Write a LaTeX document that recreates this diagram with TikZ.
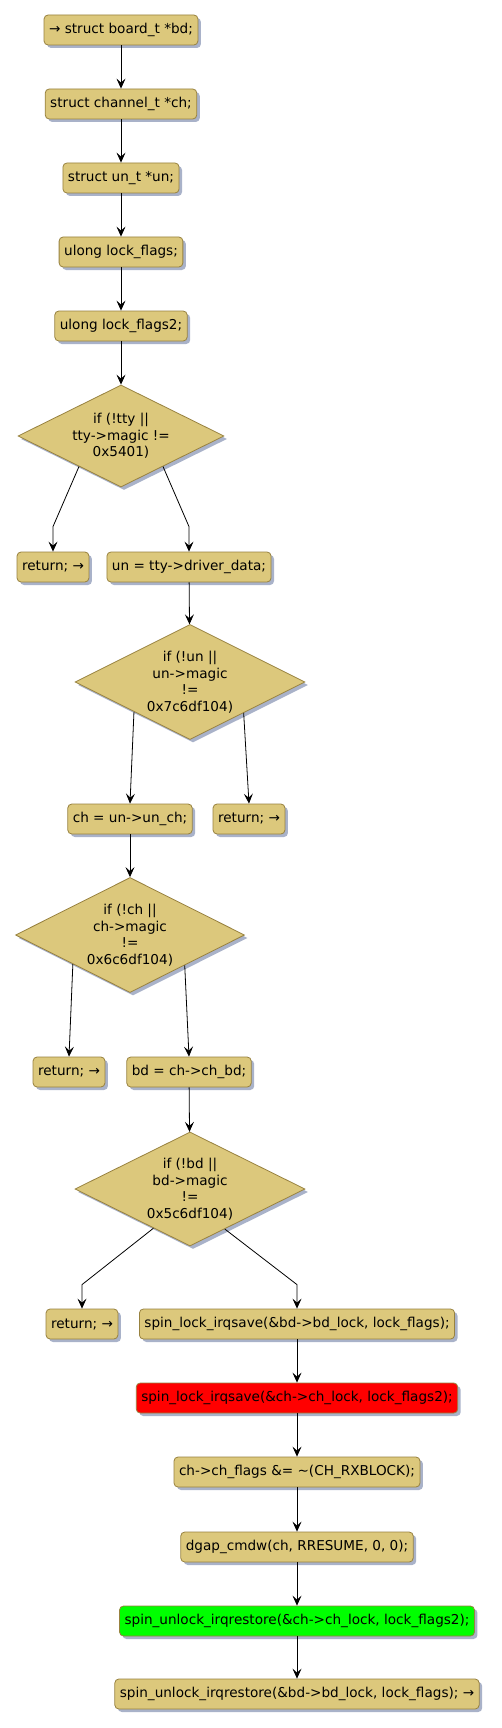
\documentclass[tikz,border=0pt]{standalone}
\usepackage{fontspec}
\setmainfont{DejaVu Sans}
\usetikzlibrary{shapes.geometric,arrows.meta,shadows,calc}
\definecolor{boxfill}{RGB}{220,200,124}
\definecolor{boxdraw}{RGB}{152,130,64}
\definecolor{shadowc}{RGB}{160,170,196}
\definecolor{redfill}{RGB}{255,0,0}
\definecolor{greenfill}{RGB}{0,255,0}
\tikzset{
  stepbox/.style={draw=boxdraw, fill=boxfill, text=black, rounded corners=4pt, line width=0.8pt,
    minimum height=30pt, inner xsep=5pt, inner ysep=0pt,
    font=\fontsize{13.6pt}{16.5pt}\selectfont,
    drop shadow={shadow xshift=3pt, shadow yshift=-3pt, fill=shadowc, opacity=0.9}},
  decide/.style={shape=diamond, aspect=2, draw=boxdraw, fill=boxfill, text=black, line width=0.8pt,
    inner sep=0pt, align=center, font=\fontsize{13.6pt}{16.6pt}\selectfont,
    drop shadow={shadow xshift=3pt, shadow yshift=-3pt, fill=shadowc, opacity=0.9}},
  flow/.style={draw=black, line width=0.8pt, -{Stealth[length=10pt,width=9pt,inset=4pt]}}
}
\begin{document}
\begin{tikzpicture}[x=1pt,y=-1pt]
\useasboundingbox (0,0) rectangle (501,1728);
\fill[white] (0,0) rectangle (501,1728);

\node[stepbox] (b1) at (121,30) {→ struct board\_t *bd;};
\node[stepbox] (b2) at (121,104) {struct channel\_t *ch;};
\node[stepbox] (b3) at (121,178) {struct un\_t *un;};
\node[stepbox] (b4) at (121,252) {ulong lock\_flags;};
\node[stepbox] (b5) at (121,326) {ulong lock\_flags2;};

\node[decide, minimum width=206pt, minimum height=102pt] (d1) at (121,436)
  {if (!tty ||\\tty->magic !=\\0x5401)};
\node[stepbox] (r1) at (53,567) {return; →};
\node[stepbox] (b6) at (189,567) {un = tty->driver\_data;};

\node[decide, minimum width=230pt, minimum height=115pt] (d2) at (190,682)
  {if (!un ||\\un->magic\\!=\\0x7c6df104)};
\node[stepbox] (b7) at (130,819) {ch = un->un\_ch;};
\node[stepbox] (r2) at (249,819) {return; →};

\node[decide, minimum width=229pt, minimum height=115pt] (d3) at (130,935)
  {if (!ch ||\\ch->magic\\!=\\0x6c6df104)};
\node[stepbox] (r3) at (69,1072) {return; →};
\node[stepbox] (b8) at (189,1072) {bd = ch->ch\_bd;};

\node[decide, minimum width=230pt, minimum height=114pt] (d4) at (190,1189)
  {if (!bd ||\\bd->magic\\!=\\0x5c6df104)};
\node[stepbox] (r4) at (82,1324) {return; →};
\node[stepbox] (b9) at (297,1324) {spin\_lock\_irqsave(\&bd->bd\_lock, lock\_flags);};
\node[stepbox, fill=redfill] (b10) at (297,1398) {spin\_lock\_irqsave(\&ch->ch\_lock, lock\_flags2);};
\node[stepbox] (b11) at (297,1472) {ch->ch\_flags \&= \textasciitilde(CH\_RXBLOCK);};
\node[stepbox] (b12) at (297,1547) {dgap\_cmdw(ch, RRESUME, 0, 0);};
\node[stepbox, fill=greenfill] (b13) at (297,1621) {spin\_unlock\_irqrestore(\&ch->ch\_lock, lock\_flags2);};
\node[stepbox] (b14) at (297,1694) {spin\_unlock\_irqrestore(\&bd->bd\_lock, lock\_flags); →};

\draw[flow] (b1) -- (b2);
\draw[flow] (b2) -- (b3);
\draw[flow] (b3) -- (b4);
\draw[flow] (b4) -- (b5);
\draw[flow] (b5) -- (d1);

\draw[flow] (d1.216) -- ($(r1.north)+(0,-25)$) -- (r1.north);
\draw[flow] (d1.324) -- ($(b6.north)+(0,-25)$) -- (b6.north);
\draw[flow] (b6) -- (d2);

\draw[flow] (d2.208.5) -- (b7.north);
\draw[flow] (d2.330.6) -- (r2.north);
\draw[flow] (b7) -- (d3);

\draw[flow] (d3.207.8) -- (r3.north);
\draw[flow] (d3.331.4) -- (b8.north);
\draw[flow] (b8) -- (d4);

\draw[flow] (d4.227.3) -- ($(r4.north)+(0,-24)$) -- (r4.north);
\draw[flow] (d4.311) -- ($(b9.north)+(0,-24)$) -- (b9.north);
\draw[flow] (b9) -- (b10);
\draw[flow] (b10) -- (b11);
\draw[flow] (b11) -- (b12);
\draw[flow] (b12) -- (b13);
\draw[flow] (b13) -- (b14);
\end{tikzpicture}
\end{document}
